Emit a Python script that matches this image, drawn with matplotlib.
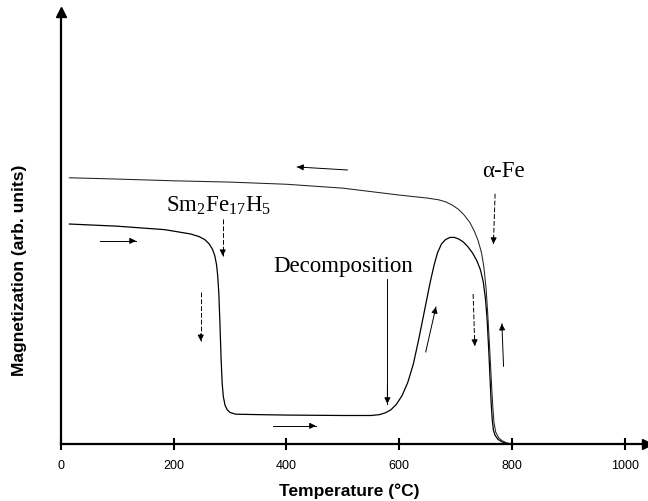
import matplotlib.pyplot as plt

plt.rcParams['mathtext.fontset'] = 'custom'
plt.rcParams['mathtext.rm'] = 'Liberation Serif'

# heating curve (Sm2Fe17H5 -> decomposition -> alpha-Fe)
heat_T = [15, 100, 184, 230, 245, 255, 263, 269, 273, 276, 278, 280, 282, 284, 286, 288,
          291, 295, 300, 310, 350, 400, 500, 550, 565, 575, 585, 595, 605, 615, 625, 635,
          645, 655, 662, 668, 675, 682, 690, 698, 706, 714, 722, 730, 738, 744, 749, 753,
          756, 759, 761, 763, 765, 767, 770, 775, 782, 790, 800]
heat_M = [50.9, 50.4, 49.6, 48.6, 48.0, 47.3, 46.3, 45.0, 43.5, 41.5, 39.0, 35.0, 28.0, 20.0, 14.0, 11.0,
          9.0, 7.9, 7.3, 6.9, 6.8, 6.7, 6.6, 6.6, 6.8, 7.2, 7.9, 9.2, 11.2, 14.2, 18.5, 24.5,
          31.0, 37.5, 41.5, 44.3, 46.3, 47.3, 47.8, 47.8, 47.4, 46.7, 45.6, 44.2, 42.3, 40.3, 37.5, 33.5,
          28.5, 21.0, 15.3, 9.5, 5.5, 3.2, 2.0, 1.1, 0.5, 0.15, 0.0]

# cooling curve
cool_T = [15, 100, 200, 300, 400, 500, 550, 600, 650, 670, 683, 695, 705, 715, 725, 733,
          740, 746, 750, 754, 757, 760, 762, 764, 766, 768, 771, 776, 782, 790, 800]
cool_M = [61.6, 61.3, 60.9, 60.6, 60.1, 59.2, 58.4, 57.6, 56.9, 56.5, 56.0, 55.2, 54.3, 53.0, 51.3, 49.3,
          47.0, 44.2, 41.0, 36.0, 30.0, 23.0, 18.0, 13.0, 8.5, 5.0, 2.8, 1.5, 0.8, 0.3, 0.0]

x_ticks = [0, 200, 400, 600, 800, 1000]

fig = plt.figure(figsize=(6.48, 5.02), dpi=100)
ax = fig.add_axes([0.094, 0.1135, 0.905, 0.861])

ax.plot(heat_T, heat_M, color='black', lw=0.9)
ax.plot(cool_T, cool_M, color='#222222', lw=0.75)

ax.set_xlim(0, 1040)
ax.set_ylim(0, 100)
ax.set_xticks(x_ticks)
ax.set_xticklabels([str(t) for t in x_ticks], fontsize=9, family='Liberation Sans')
ax.set_yticks([])
ax.tick_params(axis='x', direction='inout', length=9, width=1.5, pad=6)
for s in ['top', 'right']:
    ax.spines[s].set_visible(False)
for s in ['left', 'bottom']:
    ax.spines[s].set_linewidth(1.6)
ax.plot(1, 0, '>k', transform=ax.transAxes, clip_on=False, markersize=7)
ax.plot(0, 1, '^k', transform=ax.transAxes, clip_on=False, markersize=7)

ax.set_xlabel('Temperature (°C)', fontsize=12.5, fontweight='bold', family='Liberation Sans')
ax.set_ylabel('Magnetization (arb. units)', fontsize=12.5, fontweight='bold', family='Liberation Sans')
ax.xaxis.set_label_coords(0.491, -0.088)
ax.yaxis.set_label_coords(-0.058, 0.405)

# labels
ax.text(280, 55.5, r'Sm$_\mathrm{2}$Fe$_\mathrm{17}$H$_\mathrm{5}$', fontsize=16.5, family='Liberation Serif',
        ha='center', va='center')
ax.text(500, 41.2, 'Decomposition', fontsize=16.5, family='Liberation Serif', ha='center', va='center')
ax.text(784, 63.2, 'α-Fe', fontsize=16.5, family='Liberation Serif', ha='center', va='center')

# direction / pointer arrows: (start, tip, dashed)
arrows = [
    ((287, 52.0), (287, 43.5), True),
    ((248, 35.2), (248, 23.8), True),
    ((69, 47.0), (133, 47.0), False),
    ((579, 38.2), (579, 9.3), False),
    ((376, 4.2), (452, 4.2), False),
    ((508, 63.4), (419, 64.1), False),
    ((770, 57.9), (767, 46.3), True),
    ((647, 21.3), (665, 31.7), False),
    ((731, 34.7), (734, 22.7), True),
    ((785, 18.0), (782, 27.8), False),
]
for (x0, y0), (x1, y1), dashed in arrows:
    ls = (0, (5, 2)) if dashed else '-'
    ax.plot([x0, x1], [y0, y1], color='black', lw=0.7, ls=ls)
    ax.annotate('', xy=(x1, y1), xytext=(x1 - (x1 - x0) * 0.15, y1 - (y1 - y0) * 0.15),
                arrowprops=dict(arrowstyle='-|>', color='black', lw=0.7, mutation_scale=9,
                                shrinkA=0, shrinkB=0))

plt.savefig('out.png', dpi=100)
